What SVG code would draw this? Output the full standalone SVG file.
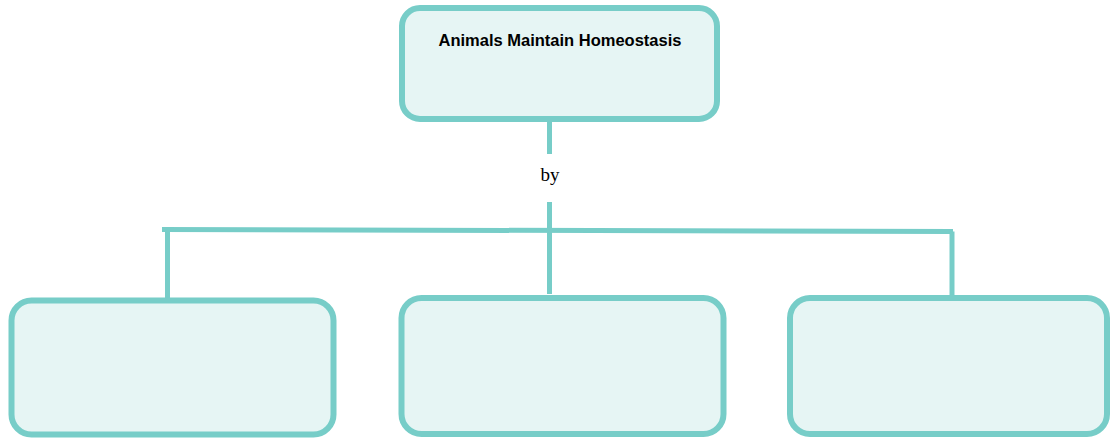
<svg xmlns="http://www.w3.org/2000/svg" width="1111" height="438" viewBox="0 0 1111 438">
  <style>
    .box { fill: #E6F5F4; stroke: #77CDC8; stroke-width: 6; }
    .conn { stroke: #77CDC8; stroke-width: 5; fill: none; }
    .title { font-family: "Liberation Sans", Arial, sans-serif; font-weight: bold; font-size: 16.5px; fill: #000; }
    .label { font-family: "Liberation Serif", "Times New Roman", serif; font-size: 19px; fill: #000; }
  </style>
  <rect width="1111" height="438" fill="#FFFFFF"/>
  <g id="connectors">
    <line class="conn" x1="549.5" y1="121" x2="549.5" y2="154"/>
    <line class="conn" x1="549.5" y1="202" x2="549.5" y2="294"/>
    <path class="conn" d="M162 229.5 L953 231.5"/>
    <line class="conn" x1="167.5" y1="229.5" x2="167.5" y2="298"/>
    <line class="conn" x1="952" y1="231.5" x2="952" y2="296"/>
    <text class="label" x="550" y="181" text-anchor="middle">by</text>
  </g>
  <g id="node-root">
    <rect class="box" x="402" y="8" width="315" height="111" rx="18"/>
    <text class="title" x="560" y="46" text-anchor="middle">Animals Maintain Homeostasis</text>
  </g>
  <g id="node-left">
    <rect class="box" x="11.5" y="300.5" width="322" height="134" rx="20"/>
  </g>
  <g id="node-middle">
    <rect class="box" x="401.5" y="298" width="322" height="136" rx="20"/>
  </g>
  <g id="node-right">
    <rect class="box" x="790" y="298" width="317" height="136" rx="20"/>
  </g>
</svg>
